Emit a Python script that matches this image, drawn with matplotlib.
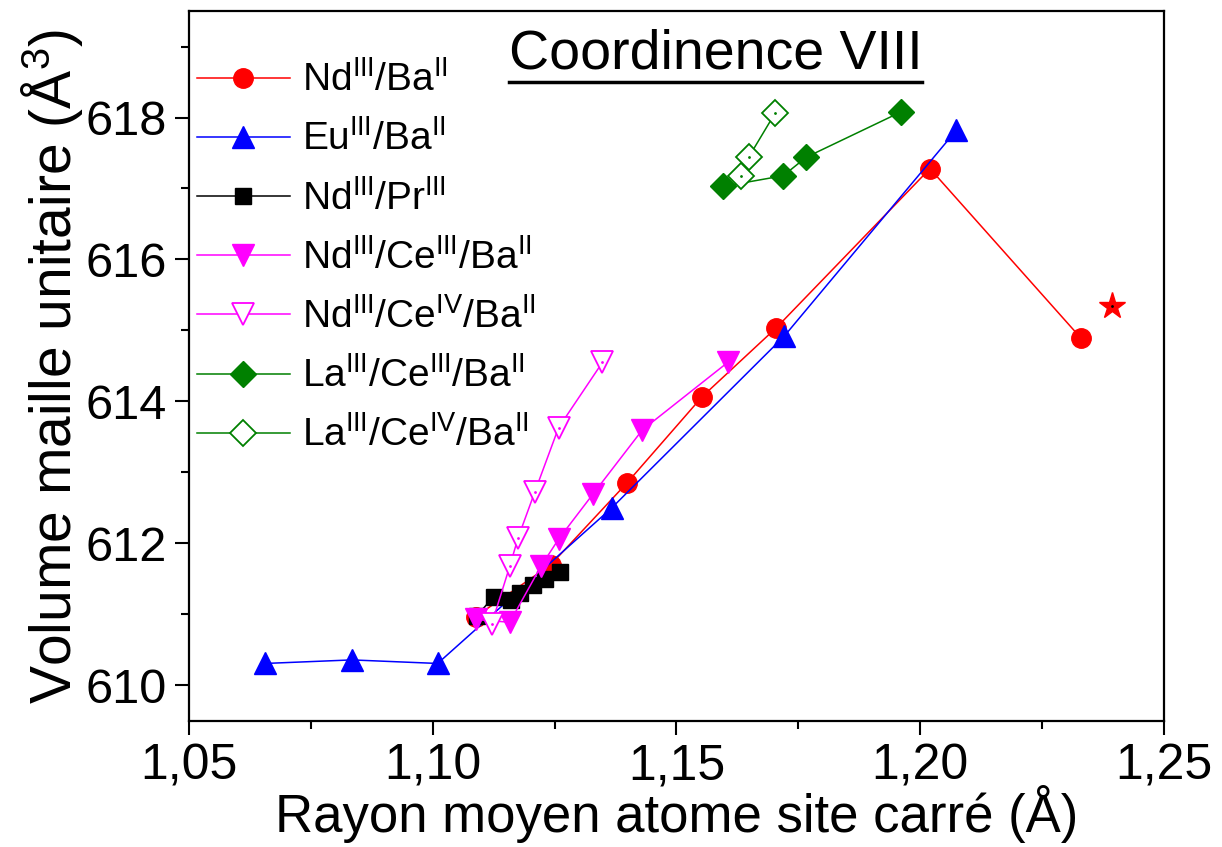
import matplotlib
matplotlib.use("Agg")
import matplotlib.pyplot as plt
from matplotlib import font_manager
from matplotlib.ticker import MultipleLocator, FuncFormatter
from matplotlib.lines import Line2D

# --- data ---
nd_ba_x = [1.1088, 1.1242, 1.1398, 1.1553, 1.1705, 1.2020, 1.2330]
nd_ba_y = [610.97, 611.70, 612.85, 614.07, 615.04, 617.28, 614.89]

eu_ba_x = [1.0656, 1.0834, 1.1010, 1.1367, 1.1721, 1.2074]
eu_ba_y = [610.31, 610.36, 610.31, 612.50, 614.92, 617.82]

nd_pr_x = [1.1090, 1.1125, 1.1160, 1.1178, 1.1205, 1.1230, 1.1262]
nd_pr_y = [610.98, 611.25, 611.20, 611.30, 611.42, 611.50, 611.60]

nd_ce3_x = [1.1088, 1.1158, 1.1222, 1.1258, 1.1328, 1.1430, 1.1605]
nd_ce3_y = [610.93, 610.89, 611.68, 612.06, 612.69, 613.60, 614.55]

nd_ce4_x = [1.1121, 1.1158, 1.1175, 1.1209, 1.1258, 1.1348]
nd_ce4_y = [610.87, 611.68, 612.08, 612.72, 613.63, 614.55]

la_ce3_x = [1.1596, 1.1719, 1.1766, 1.1961]
la_ce3_y = [617.03, 617.18, 617.44, 618.08]

la_ce4_x = [1.1633, 1.1648, 1.1703]
la_ce4_y = [617.18, 617.44, 618.07]

star_x = [1.2393]
star_y = [615.35]


def pick(name, fallback):
    try:
        font_manager.findfont(name, fallback_to_default=False)
        return name
    except Exception:
        return fallback


sans = pick("Liberation Sans", "DejaVu Sans")

plt.rcParams["font.family"] = sans
plt.rcParams["mathtext.fontset"] = "custom"
plt.rcParams["mathtext.rm"] = sans
plt.rcParams["mathtext.it"] = sans + ":italic"

fig = plt.figure(figsize=(12.22, 8.47), dpi=100)
ax = fig.add_axes([0.1547, 0.1488, 0.7978, 0.8382])

lw = 1.1
ax.plot(nd_ba_x, nd_ba_y, "-o", color="#ff0000", lw=lw, ms=14, mec="#ff0000",
        label=r"Nd$^{\mathrm{III}}$/Ba$^{\mathrm{II}}$")
ax.plot(eu_ba_x, eu_ba_y, "-^", color="#0000ff", lw=lw, ms=16, mec="#0000ff",
        label=r"Eu$^{\mathrm{III}}$/Ba$^{\mathrm{II}}$")
ax.plot(nd_pr_x, nd_pr_y, "-s", color="black", lw=lw, ms=12,
        label=r"Nd$^{\mathrm{III}}$/Pr$^{\mathrm{III}}$")
ax.plot(nd_ce3_x, nd_ce3_y, "-v", color="#ff00ff", lw=lw, ms=16, mec="#ff00ff",
        label=r"Nd$^{\mathrm{III}}$/Ce$^{\mathrm{III}}$/Ba$^{\mathrm{II}}$")
ax.plot(nd_ce4_x, nd_ce4_y, "-v", color="#ff00ff", lw=lw, ms=16, mfc="white",
        mec="#ff00ff", mew=1.3,
        label=r"Nd$^{\mathrm{III}}$/Ce$^{\mathrm{IV}}$/Ba$^{\mathrm{II}}$")
ax.plot(nd_ce4_x, nd_ce4_y, ".", color="#ff00ff", ms=2)
ax.plot(la_ce3_x, la_ce3_y, "-D", color="#008000", lw=lw, ms=13, mec="#008000",
        label=r"La$^{\mathrm{III}}$/Ce$^{\mathrm{III}}$/Ba$^{\mathrm{II}}$")
ax.plot(la_ce4_x, la_ce4_y, "-D", color="#008000", lw=lw, ms=13, mfc="white",
        mec="#008000", mew=1.3,
        label=r"La$^{\mathrm{III}}$/Ce$^{\mathrm{IV}}$/Ba$^{\mathrm{II}}$")
ax.plot(la_ce4_x, la_ce4_y, ".", color="#008000", ms=2)
ax.plot(star_x, star_y, "*", color="#ff0000", ms=20)
ax.plot(star_x, star_y, ".", color="black", ms=2)

ax.set_xlim(1.05, 1.25)
ax.set_ylim(609.5, 619.5)
ax.xaxis.set_major_locator(MultipleLocator(0.05))
ax.xaxis.set_minor_locator(MultipleLocator(0.025))
ax.yaxis.set_major_locator(MultipleLocator(2))
ax.yaxis.set_minor_locator(MultipleLocator(1))
ax.xaxis.set_major_formatter(FuncFormatter(lambda v, p: f"{v:.2f}".replace(".", ",")))

for s in ax.spines.values():
    s.set_linewidth(1.6)
ax.tick_params(which="major", direction="out", length=10, width=1.5, pad=6)
ax.tick_params(which="minor", direction="out", length=6, width=1.5)
ax.tick_params(axis="y", labelsize=35)
ax.tick_params(axis="x", labelsize=36)

ax.set_xlabel("Rayon moyen atome site carré (Å)", fontsize=38, labelpad=-3)
ax.set_ylabel(r"Volume maille unitaire (Å$^{3}$)", fontsize=41, labelpad=0)

leg = ax.legend(loc="upper left", bbox_to_anchor=(0.0, 0.94), frameon=False,
                fontsize=28, handlelength=2.4, handletextpad=0.3,
                labelspacing=0.55, borderaxespad=0, borderpad=0.2,
                markerscale=1.0)

title = ax.text(0.540, 0.975, "Coordinence VIII", transform=ax.transAxes,
                ha="center", va="top", fontsize=40)

fig.canvas.draw()
bb = title.get_window_extent().transformed(fig.transFigure.inverted())
fig.add_artist(Line2D([bb.x0, bb.x1], [bb.y0 - 0.002, bb.y0 - 0.002],
                      transform=fig.transFigure, color="black", lw=2.5))

fig.savefig("out.png", dpi=100)
